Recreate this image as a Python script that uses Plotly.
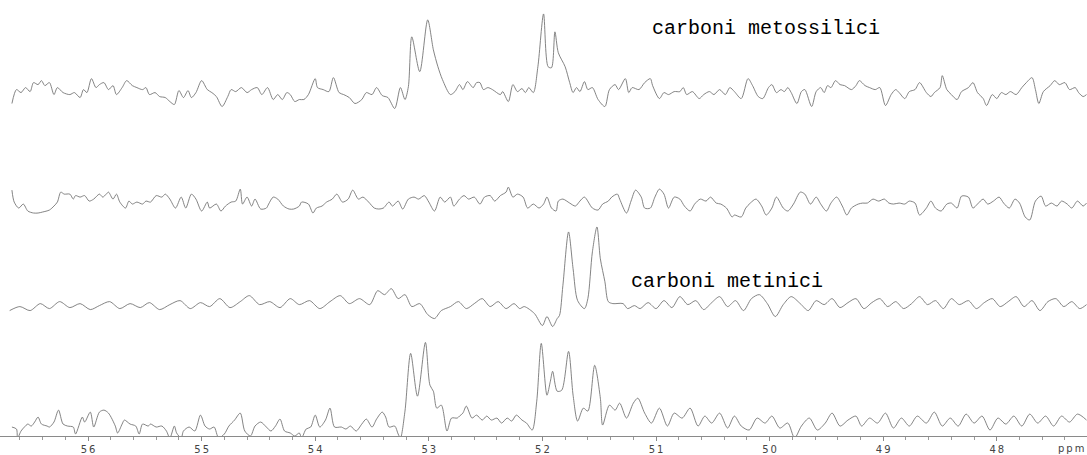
import plotly.graph_objects as go

# ---------------- data (chemical shift in ppm, intensity in arbitrary units) -------------
# Spectrum 1 (top): methoxy carbons
s1_ppm = [56.67,56.63,56.59,56.55,56.51,56.48,56.44,56.41,56.38,56.34,56.30,56.27,56.22,56.16,56.12,56.07,56.04,56.01,55.97,55.93,
          55.90,55.86,55.82,55.78,55.75,55.70,55.66,55.61,55.57,55.52,55.49,55.46,55.41,55.37,55.32,55.28,55.24,55.20,55.16,55.12,
          55.09,55.05,55.00,54.95,54.91,54.87,54.82,54.77,54.74,54.70,54.65,54.60,54.56,54.51,54.47,54.42,54.37,54.33,54.29,54.25,
          54.22,54.18,54.14,54.10,54.06,54.00,53.98,53.93,53.88,53.84,53.79,53.75,53.70,53.65,53.59,53.55,53.50,53.46,53.41,53.36,
          53.30,53.25,53.21,53.18,53.15,53.08,53.01,52.96,52.92,52.88,52.81,52.77,52.73,52.70,52.66,52.61,52.58,52.55,52.52,52.48,
          52.44,52.37,52.35,52.30,52.26,52.22,52.18,52.15,52.12,52.08,52.04,51.99,51.95,51.92,51.89,51.86,51.80,51.76,51.73,51.70,
          51.67,51.63,51.60,51.56,51.51,51.45,51.41,51.36,51.33,51.27,51.24,51.21,51.15,51.10,51.05,51.03,50.97,50.93,50.89,50.84,
          50.79,50.76,50.73,50.68,50.62,50.58,50.53,50.49,50.44,50.39,50.35,50.31,50.25,50.19,50.15,50.10,50.06,50.01,49.98,49.94,
          49.90,49.87,49.84,49.81,49.76,49.72,49.69,49.63,49.59,49.55,49.52,49.49,49.46,49.42,49.38,49.34,49.28,49.24,49.21,49.16,
          49.12,49.07,49.03,48.98,48.93,48.89,48.86,48.81,48.77,48.72,48.68,48.62,48.58,48.55,48.50,48.48,48.44,48.40,48.35,48.31,
          48.25,48.21,48.17,48.12,48.09,48.04,48.00,47.96,47.92,47.88,47.83,47.78,47.74,47.69,47.66,47.63,47.59,47.53,47.49,47.45,
          47.40,47.36,47.31,47.28,47.24,47.21]
s1_int = [-4,10,7,12,8,17,15,19,14,17,5,12,7,5,7,2,10,7,21,12,
          15,17,10,14,5,12,19,14,12,10,12,5,7,3,2,-2,-5,9,2,9,
          2,7,19,10,7,3,-7,3,10,8,12,7,10,12,5,12,0,5,0,7,
          5,-2,0,0,5,21,12,10,8,22,7,5,2,-4,0,7,5,12,4,2,
          -9,12,0,13,63,28,80,50,33,20,5,8,15,10,18,12,17,17,10,12,
          10,5,8,-2,15,8,11,7,12,7,33,86,33,32,68,47,33,17,7,12,
          8,18,10,12,0,-7,10,15,10,21,7,12,10,17,21,14,1,7,5,8,
          8,12,5,8,1,5,8,5,10,5,12,8,1,21,14,3,1,12,15,7,
          10,8,12,7,-4,8,10,-7,8,12,7,14,12,19,15,14,10,14,19,14,
          12,10,12,-6,5,10,7,1,8,10,17,7,3,7,12,24,10,5,0,8,
          12,17,7,1,-6,5,1,7,5,8,5,12,17,22,10,-4,8,14,19,15,
          17,10,12,7,3,5]

# Spectrum 2
s2_ppm = [56.67,56.65,56.61,56.57,56.53,56.48,56.44,56.40,56.34,56.30,56.27,56.24,56.21,56.16,56.13,56.11,56.07,56.03,55.99,55.95,
          55.90,55.87,55.84,55.82,55.78,55.75,55.72,55.67,55.64,55.61,55.57,55.52,55.49,55.45,55.40,55.35,55.32,55.28,55.23,55.18,
          55.14,55.09,55.05,55.00,54.95,54.93,54.87,54.83,54.79,54.74,54.70,54.66,54.64,54.60,54.56,54.53,54.48,54.43,54.41,54.37,
          54.33,54.28,54.23,54.19,54.14,54.12,54.06,54.02,53.99,53.94,53.90,53.85,53.81,53.76,53.71,53.67,53.62,53.58,53.53,53.48,
          53.44,53.40,53.35,53.32,53.27,53.23,53.18,53.13,53.09,53.04,53.00,52.95,52.90,52.86,52.81,52.78,52.73,52.69,52.65,52.60,
          52.55,52.51,52.46,52.42,52.37,52.32,52.30,52.26,52.22,52.17,52.13,52.08,52.03,51.99,51.96,51.92,51.88,51.86,51.82,51.76,
          51.71,51.67,51.63,51.56,51.51,51.47,51.42,51.39,51.34,51.32,51.26,51.22,51.18,51.13,51.10,51.05,51.01,50.97,50.93,50.89,
          50.84,50.79,50.75,50.70,50.66,50.61,50.56,50.52,50.47,50.43,50.38,50.33,50.31,50.25,50.21,50.17,50.12,50.07,50.03,49.98,
          49.94,49.88,49.84,49.79,49.73,49.69,49.64,49.59,49.55,49.50,49.46,49.41,49.36,49.32,49.28,49.22,49.18,49.14,49.09,49.04,
          48.99,48.95,48.91,48.86,48.81,48.77,48.72,48.68,48.62,48.58,48.54,48.49,48.44,48.40,48.35,48.31,48.25,48.21,48.17,48.12,
          48.08,48.03,47.98,47.94,47.89,47.84,47.80,47.75,47.71,47.66,47.61,47.57,47.52,47.47,47.43,47.38,47.34,47.29,47.24,47.21]
s2_int = [9,-3,-9,-5,-12,-14,-14,-13,-11,-7,-3,7,5,5,0,3.5,2,3.5,-2,0,
          5,2,5,7,0,5,-3,-9,-2,-5,-3,-5,-2,-3,3.5,2,5,0,-9,2,
          -9,5,0,-12,-3,-9,-5,-12,-7,-3,-2,10,-5,2,-7,0,-10,-9,-5,2,
          0,-7,-10,-10,-7,-3,-5,-14,-9,-7,-3,0,5,-3,0,9,0,2,-3,-9,
          -10,-9,-3,-7,-2,-10,0,2,0,3.5,-3,-12,2,-3,2,-7,0,3.5,0,2,
          -5,2,3.5,-2,3.5,7,12,2,5,2,-9,-5,-9,-5,2,-9,-12,-2,0,-4,
          -7,-2,2,-9,-11,-5,-2,2,5,0,-14,-2,9,2,-9,-9,2,10,5,-9,
          2,0,-7,-12,-5,0,-2,2,-4,-5,-9,-18,-16,-18,-9,-4,0,-7,-16,-9,
          2,-9,-12,-5,7,5,-5,2,-5,-12,-4,2,-7,-16,-9,-5,-4,-4,0,-2,
          0,-4,-5,-4,-5,-2,-4,-16,-9,-2,-9,-12,-5,-4,-9,3,2,-9,-5,0,
          -5,-2,2,-4,-9,0,-4,-18,-21,-2,3,-7,-4,-7,-2,-5,-9,-2,-7,-4]

# Spectrum 3: methine carbons
s3_ppm = [56.69,56.60,56.51,56.42,56.34,56.25,56.16,56.07,55.98,55.90,55.81,55.72,55.63,55.54,55.46,55.37,55.28,55.19,55.10,55.01,
          54.93,54.84,54.75,54.66,54.58,54.49,54.40,54.31,54.22,54.14,54.05,53.96,53.87,53.78,53.70,53.61,53.52,53.45,53.39,53.33,
          53.27,53.21,53.15,53.08,53.01,52.95,52.89,52.81,52.74,52.67,52.60,52.53,52.46,52.39,52.32,52.25,52.20,52.16,52.07,52.00,
          51.96,51.91,51.87,51.85,51.82,51.77,51.73,51.69,51.63,51.60,51.56,51.52,51.49,51.45,51.42,51.38,51.29,51.25,51.19,51.14,
          51.07,51.00,50.93,50.86,50.79,50.72,50.65,50.58,50.51,50.44,50.37,50.30,50.23,50.16,50.09,50.02,49.95,49.88,49.81,49.73,
          49.66,49.59,49.52,49.45,49.38,49.31,49.24,49.17,49.10,49.03,48.96,48.89,48.82,48.75,48.68,48.61,48.54,48.47,48.40,48.33,
          48.25,48.18,48.11,48.04,47.97,47.90,47.83,47.76,47.69,47.62,47.55,47.48,47.41,47.34,47.27,47.21]
s3_int = [-2,2,-2,5,0,7,1,5,-1,3,7,0,5,1,6,-1,4,8,0,6,
          2,10,1,7,13,4,7,1,10,4,8,0,7,13,5,10,4,18,14,20,
          10,14,2,5,-6,-10,-2,2,7,0,5,10,2,7,0,5,0,2,-5,-17,
          -8,-18,-10,-7,23,77,40,8,0,10,57,82,50,27,7,5,5,0,3,0,
          6,0,8,1,12,4,8,-1,6,12,2,8,-2,10,14,5,-8,4,12,5,
          -2,8,4,10,1,6,10,0,6,10,2,7,0,5,12,4,8,0,10,4,
          8,0,6,10,2,7,12,2,8,-2,7,10,2,7,0,4]

# Spectrum 4 (bottom): full spectrum
s4_ppm = [56.67,56.63,56.62,56.59,56.56,56.53,56.50,56.47,56.44,56.41,56.36,56.34,56.30,56.26,56.22,56.18,56.13,56.11,56.05,56.03,
          55.98,55.95,55.90,55.86,55.82,55.76,55.74,55.70,55.68,55.63,55.58,55.55,55.52,55.47,55.45,55.40,55.35,55.31,55.28,55.24,
          55.22,55.18,55.16,55.11,55.06,55.01,54.97,54.93,54.89,54.85,54.80,54.76,54.71,54.66,54.62,54.57,54.53,54.48,54.43,54.39,
          54.35,54.31,54.27,54.22,54.18,54.14,54.12,54.08,54.04,54.00,53.96,53.91,53.87,53.83,53.77,53.73,53.69,53.64,53.59,53.55,
          53.50,53.46,53.41,53.38,53.35,53.30,53.27,53.25,53.21,53.16,53.10,53.03,52.99,52.96,52.93,52.89,52.84,52.80,52.75,52.73,
          52.70,52.67,52.62,52.58,52.53,52.49,52.45,52.40,52.36,52.31,52.27,52.23,52.18,52.14,52.09,52.05,52.01,51.96,51.93,51.91,
          51.87,51.83,51.77,51.73,51.69,51.64,51.60,51.54,51.49,51.47,51.41,51.36,51.32,51.26,51.20,51.16,51.10,51.04,50.97,50.90,
          50.84,50.77,50.70,50.63,50.57,50.51,50.44,50.37,50.31,50.25,50.18,50.11,50.04,49.98,49.91,49.84,49.78,49.72,49.65,49.58,
          49.51,49.45,49.38,49.31,49.24,49.19,49.12,49.05,48.98,48.91,48.84,48.77,48.70,48.62,48.55,48.48,48.41,48.34,48.27,48.20,
          48.13,48.06,47.99,47.92,47.85,47.78,47.71,47.64,47.57,47.50,47.43,47.36,47.29,47.21]
s4_int = [-4,-6,-15,-8,-4,-1,-3,1,6,-1,-3,-4,1,13,-1,-3,-4,-11,6,1,
          11,-4,11,13,10,-3,-10,-1,3,-1,-3,-11,-1,-3,-1,-4,-3,-8,-15,-3,
          -10,-15,-8,-4,-8,8,-3,-6,-4,-15,-11,-3,3,10,-8,-13,-3,1,-4,-8,
          -3,4,-8,-10,-13,-10,-15,-6,-4,8,-4,3,15,-4,-4,-6,-3,-8,-1,4,
          -4,4,11,6,-4,-3,-11,-15,12,70,27,81,38,32,15,18,-8,5,5,7,
          10,17,5,8,3,7,3,5,0,5,2,8,3,0,-7,22,80,28,42,52,
          32,33,72,28,2,15,12,58,25,-2,18,13,20,5,20,25,10,0,15,-3,
          10,5,15,-3,7,0,10,-5,7,-3,-7,5,0,7,-5,0,-15,-3,5,-7,
          0,10,-3,3,7,-3,5,0,10,-5,5,-3,7,0,11,-3,5,-3,9,0,
          7,-7,5,-1,7,-3,9,0,7,-3,7,1,9,3]

spectra = [(s1_ppm, s1_int), (s2_ppm, s2_int), (s3_ppm, s3_int), (s4_ppm, s4_int)]
offsets = [338, 238, 128, 13]          # vertical stacking of the spectra
major_ticks = [56, 55, 54, 53, 52, 51, 50, 49, 48]

fig = go.Figure()
for (xs, ys), off in zip(spectra, offsets):
    fig.add_trace(go.Scatter(
        x=xs, y=[v + off for v in ys], mode="lines",
        line=dict(color="#6e6e6e", width=0.85, shape="spline", smoothing=0.8),
        showlegend=False, hoverinfo="skip"))

fig.update_layout(
    width=1087, height=455,
    margin=dict(l=0, r=0, t=0, b=17),
    paper_bgcolor="white", plot_bgcolor="white",
    xaxis=dict(range=[56.775, 47.206], showgrid=False, zeroline=False,
               showline=True, linecolor="#8a8a8a", linewidth=1,
               ticks="outside", ticklen=4, tickcolor="#8a8a8a",
               tickvals=major_ticks,
               ticktext=["\u2009".join(str(t)) for t in major_ticks],
               tickfont=dict(family="DejaVu Sans", size=10, color="#444444"),
               minor=dict(dtick=0.2, ticks="outside", ticklen=3, tickcolor="#9a9a9a")),
    yaxis=dict(range=[0, 438], visible=False),
    annotations=[
        dict(text="carboni metossilici", xref="paper", yref="paper", x=0.598, y=0.934,
             xanchor="left", yanchor="middle", showarrow=False,
             font=dict(family="Liberation Mono", size=20, color="black")),
        dict(text="carboni metinici", xref="paper", yref="paper", x=0.579, y=0.354,
             xanchor="left", yanchor="middle", showarrow=False,
             font=dict(family="Liberation Mono", size=20, color="black")),
        dict(text="p\u2009p\u2009m", xref="paper", yref="paper", x=0.999, y=-0.012,
             xanchor="right", yanchor="top", showarrow=False,
             font=dict(family="DejaVu Sans", size=10, color="#444444")),
    ],
)

fig.write_html("out.html")
